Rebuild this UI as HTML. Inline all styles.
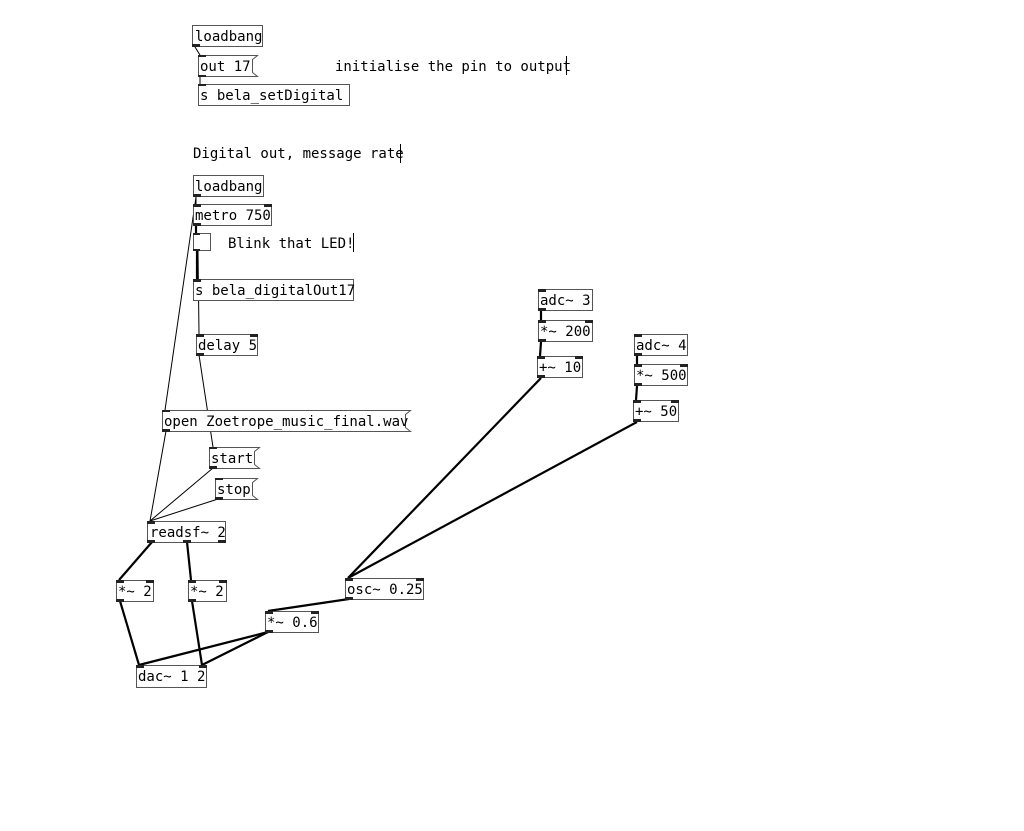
<!DOCTYPE html>
<html><head><style>
body{margin:0;background:#fff;}
svg{display:block}
text{font-family:"DejaVu Sans Mono","Liberation Mono",monospace;font-size:14px;fill:#000}
.b{fill:#fff;stroke:#555;stroke-width:1}
.p{fill:#222}
.t{stroke:#000;stroke-width:1;fill:none}
.k{stroke:#000;stroke-width:2.2;fill:none}
</style></head><body>
<svg width="1024" height="831" viewBox="0 0 1024 831">
<!-- connections -->
<line class="t" x1="195" y1="47" x2="200" y2="55"/>
<line class="t" x1="200" y1="77" x2="200" y2="84"/>
<line class="t" x1="196" y1="196" x2="196" y2="204"/>
<line class="t" x1="196" y1="197" x2="165" y2="410"/>
<line class="k" x1="196" y1="226" x2="196" y2="233"/>
<line class="k" x1="197" y1="251" x2="197" y2="279"/>
<line class="t" x1="198" y1="251" x2="199" y2="334"/>
<line class="t" x1="199" y1="355" x2="213" y2="447"/>
<line class="t" x1="166" y1="431" x2="150" y2="521"/>
<line class="t" x1="213" y1="468" x2="150" y2="521"/>
<line class="t" x1="218" y1="499" x2="150" y2="521"/>
<line class="k" x1="152" y1="542" x2="119" y2="580"/>
<line class="k" x1="187" y1="542" x2="191" y2="580"/>
<line class="k" x1="120" y1="601" x2="139" y2="665"/>
<line class="k" x1="192" y1="601" x2="202" y2="665"/>
<line class="k" x1="268" y1="632" x2="139" y2="665"/>
<line class="k" x1="268" y1="632" x2="202" y2="665"/>
<line class="k" x1="349" y1="599" x2="268" y2="611"/>
<line class="k" x1="541" y1="378" x2="348" y2="578"/>
<line class="k" x1="637" y1="422" x2="348" y2="578"/>
<line class="k" x1="541" y1="311" x2="541" y2="320"/>
<line class="k" x1="541" y1="342" x2="540" y2="356"/>
<line class="k" x1="637" y1="356" x2="637" y2="364"/>
<line class="k" x1="637" y1="386" x2="636" y2="400"/>

<!-- objects -->
<rect class="b" x="192.5" y="25.5" width="70" height="21"/><text x="195" y="41">loadbang</text>
<path class="b" d="M198.5 55.5H257.5L252.5 59.5V72.5L257.5 76.5H198.5Z"/><text x="200" y="71">out 17</text>
<rect class="b" x="198.5" y="84.5" width="151" height="21"/><text x="200" y="100">s bela_setDigital</text>
<text x="335" y="71">initialise the pin to output</text><line class="t" x1="566.5" y1="56" x2="566.5" y2="75"/>
<text x="193" y="158">Digital out, message rate</text><line class="t" x1="400.5" y1="144" x2="400.5" y2="163"/>
<rect class="b" x="193.5" y="175.5" width="70" height="21"/><text x="195" y="191">loadbang</text>
<rect class="b" x="193.5" y="204.5" width="78" height="21"/><text x="195" y="220">metro 750</text>
<rect class="b" x="193.5" y="233.5" width="17" height="17"/>
<text x="228" y="248">Blink that LED!</text><line class="t" x1="353.5" y1="233" x2="353.5" y2="252"/>
<rect class="b" x="193.5" y="279.5" width="160" height="21"/><text x="195" y="295">s bela_digitalOut17</text>
<rect class="b" x="196.5" y="334.5" width="61" height="21"/><text x="198" y="350">delay 5</text>
<path class="b" d="M162.5 410.5H410.5L405.5 414.5V427.5L410.5 431.5H162.5Z"/><text x="164" y="426">open Zoetrope_music_final.wav</text>
<path class="b" d="M209.5 447.5H259.5L254.5 451.5V464.5L259.5 468.5H209.5Z"/><text x="211" y="463">start</text>
<path class="b" d="M215.5 478.5H257.5L252.5 482.5V495.5L257.5 499.5H215.5Z"/><text x="217" y="494">stop</text>
<rect class="b" x="147.5" y="521.5" width="78" height="21"/><text x="150" y="537">readsf~ 2</text>
<rect class="b" x="116.5" y="580.5" width="37" height="21"/><text x="118" y="596">*~ 2</text>
<rect class="b" x="188.5" y="580.5" width="38" height="21"/><text x="190" y="596">*~ 2</text>
<rect class="b" x="345.5" y="578.5" width="78" height="21"/><text x="347" y="594">osc~ 0.25</text>
<rect class="b" x="265.5" y="611.5" width="53" height="21"/><text x="267" y="627">*~ 0.6</text>
<rect class="b" x="136.5" y="665.5" width="70" height="22"/><text x="138" y="681">dac~ 1 2</text>
<rect class="b" x="538.5" y="289.5" width="54" height="21"/><text x="540" y="305">adc~ 3</text>
<rect class="b" x="538.5" y="320.5" width="54" height="21"/><text x="540" y="336">*~ 200</text>
<rect class="b" x="537.5" y="356.5" width="45" height="21"/><text x="539" y="372">+~ 10</text>
<rect class="b" x="634.5" y="334.5" width="53" height="21"/><text x="636" y="350">adc~ 4</text>
<rect class="b" x="634.5" y="364.5" width="53" height="21"/><text x="636" y="380">*~ 500</text>
<rect class="b" x="633.5" y="400.5" width="45" height="21"/><text x="635" y="416">+~ 50</text>

<!-- inlets / outlets -->
<g class="p">
<rect x="192" y="44" width="8" height="3"/>
<rect x="198" y="55" width="8" height="2"/><rect x="198" y="75" width="8" height="2"/>
<rect x="198" y="84" width="8" height="2"/>
<rect x="193" y="194" width="8" height="3"/>
<rect x="193" y="204" width="8" height="3"/><rect x="264" y="204" width="8" height="3"/><rect x="193" y="223" width="8" height="3"/>
<rect x="193" y="233" width="7" height="2"/><rect x="193" y="249" width="7" height="2"/>
<rect x="193" y="279" width="8" height="3"/>
<rect x="196" y="334" width="8" height="3"/><rect x="250" y="334" width="8" height="3"/><rect x="196" y="353" width="8" height="3"/>
<rect x="162" y="410" width="8" height="2"/><rect x="162" y="429" width="8" height="3"/>
<rect x="209" y="447" width="8" height="2"/><rect x="209" y="466" width="8" height="3"/>
<rect x="215" y="478" width="8" height="2"/><rect x="215" y="497" width="8" height="3"/>
<rect x="147" y="521" width="8" height="3"/><rect x="147" y="540" width="8" height="3"/><rect x="183" y="540" width="8" height="3"/><rect x="218" y="540" width="8" height="3"/>
<rect x="116" y="580" width="8" height="3"/><rect x="146" y="580" width="8" height="3"/><rect x="116" y="599" width="8" height="3"/>
<rect x="188" y="580" width="8" height="3"/><rect x="219" y="580" width="8" height="3"/><rect x="188" y="599" width="8" height="3"/>
<rect x="345" y="578" width="8" height="3"/><rect x="416" y="578" width="8" height="3"/><rect x="345" y="597" width="8" height="3"/>
<rect x="265" y="611" width="8" height="3"/><rect x="311" y="611" width="8" height="3"/><rect x="265" y="630" width="8" height="3"/>
<rect x="136" y="665" width="8" height="3"/><rect x="199" y="665" width="8" height="3"/>
<rect x="538" y="289" width="8" height="3"/><rect x="538" y="308" width="8" height="3"/>
<rect x="538" y="320" width="8" height="3"/><rect x="585" y="320" width="8" height="3"/><rect x="538" y="339" width="8" height="3"/>
<rect x="537" y="356" width="8" height="3"/><rect x="575" y="356" width="8" height="3"/><rect x="537" y="375" width="8" height="3"/>
<rect x="634" y="334" width="8" height="3"/><rect x="634" y="353" width="8" height="3"/>
<rect x="634" y="364" width="8" height="3"/><rect x="680" y="364" width="8" height="3"/><rect x="634" y="383" width="8" height="3"/>
<rect x="633" y="400" width="8" height="3"/><rect x="671" y="400" width="8" height="3"/><rect x="633" y="419" width="8" height="3"/>
</g>
</svg>
</body></html>
